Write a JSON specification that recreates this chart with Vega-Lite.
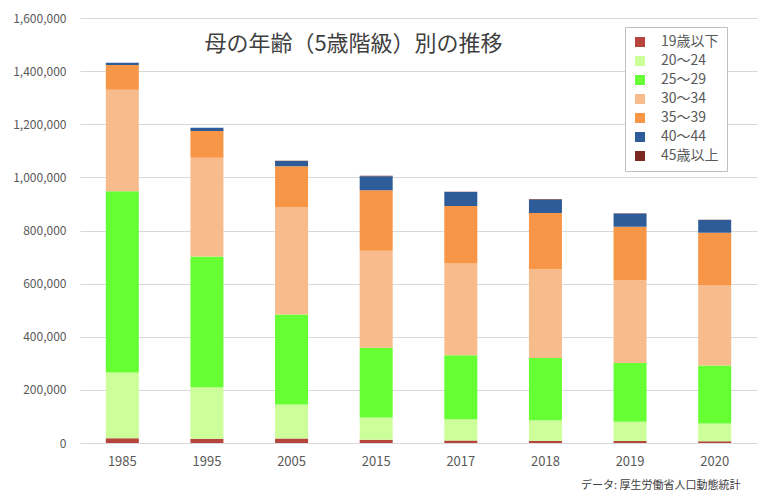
{
  "$schema": "https://vega.github.io/schema/vega-lite/v6.json",
  "autosize": "none",
  "width": 677,
  "height": 425,
  "padding": {"left": 80, "top": 18, "right": 5, "bottom": 57},
  "background": "white",
  "config": {
    "font": "Noto Sans CJK JP",
    "view": {"stroke": null}
  },
  "title": {
    "text": "母の年齢（5歳階級）別の推移",
    "fontSize": 22,
    "fontWeight": "normal",
    "color": "#404040",
    "anchor": "middle",
    "dx": -65,
    "dy": 44,
    "offset": 0
  },
  "data": {
    "values": [
      {"year": "1985", "age": "19歳以下", "k": 1, "births": 17854},
      {"year": "1985", "age": "20～24", "k": 2, "births": 247341},
      {"year": "1985", "age": "25～29", "k": 3, "births": 682885},
      {"year": "1985", "age": "30～34", "k": 4, "births": 381466},
      {"year": "1985", "age": "35～39", "k": 5, "births": 93501},
      {"year": "1985", "age": "40～44", "k": 6, "births": 8224},
      {"year": "1985", "age": "45歳以上", "k": 7, "births": 245},
      {"year": "1995", "age": "19歳以下", "k": 1, "births": 16075},
      {"year": "1995", "age": "20～24", "k": 2, "births": 193514},
      {"year": "1995", "age": "25～29", "k": 3, "births": 492714},
      {"year": "1995", "age": "30～34", "k": 4, "births": 371773},
      {"year": "1995", "age": "35～39", "k": 5, "births": 100053},
      {"year": "1995", "age": "40～44", "k": 6, "births": 12472},
      {"year": "1995", "age": "45歳以上", "k": 7, "births": 403},
      {"year": "2005", "age": "19歳以下", "k": 1, "births": 16573},
      {"year": "2005", "age": "20～24", "k": 2, "births": 128135},
      {"year": "2005", "age": "25～29", "k": 3, "births": 339328},
      {"year": "2005", "age": "30～34", "k": 4, "births": 404700},
      {"year": "2005", "age": "35～39", "k": 5, "births": 153440},
      {"year": "2005", "age": "40～44", "k": 6, "births": 19750},
      {"year": "2005", "age": "45歳以上", "k": 7, "births": 598},
      {"year": "2015", "age": "19歳以下", "k": 1, "births": 11929},
      {"year": "2015", "age": "20～24", "k": 2, "births": 84465},
      {"year": "2015", "age": "25～29", "k": 3, "births": 262266},
      {"year": "2015", "age": "30～34", "k": 4, "births": 364887},
      {"year": "2015", "age": "35～39", "k": 5, "births": 228302},
      {"year": "2015", "age": "40～44", "k": 6, "births": 52561},
      {"year": "2015", "age": "45歳以上", "k": 7, "births": 1308},
      {"year": "2017", "age": "19歳以下", "k": 1, "births": 9863},
      {"year": "2017", "age": "20～24", "k": 2, "births": 79272},
      {"year": "2017", "age": "25～29", "k": 3, "births": 240931},
      {"year": "2017", "age": "30～34", "k": 4, "births": 345441},
      {"year": "2017", "age": "35～39", "k": 5, "births": 216954},
      {"year": "2017", "age": "40～44", "k": 6, "births": 52105},
      {"year": "2017", "age": "45歳以上", "k": 7, "births": 1467},
      {"year": "2018", "age": "19歳以下", "k": 1, "births": 8778},
      {"year": "2018", "age": "20～24", "k": 2, "births": 77023},
      {"year": "2018", "age": "25～29", "k": 3, "births": 233754},
      {"year": "2018", "age": "30～34", "k": 4, "births": 334906},
      {"year": "2018", "age": "35～39", "k": 5, "births": 211021},
      {"year": "2018", "age": "40～44", "k": 6, "births": 51258},
      {"year": "2018", "age": "45歳以上", "k": 7, "births": 1654},
      {"year": "2019", "age": "19歳以下", "k": 1, "births": 7782},
      {"year": "2019", "age": "20～24", "k": 2, "births": 72092},
      {"year": "2019", "age": "25～29", "k": 3, "births": 220933},
      {"year": "2019", "age": "30～34", "k": 4, "births": 312582},
      {"year": "2019", "age": "35～39", "k": 5, "births": 201010},
      {"year": "2019", "age": "40～44", "k": 6, "births": 49191},
      {"year": "2019", "age": "45歳以上", "k": 7, "births": 1593},
      {"year": "2020", "age": "19歳以下", "k": 1, "births": 6948},
      {"year": "2020", "age": "20～24", "k": 2, "births": 66751},
      {"year": "2020", "age": "25～29", "k": 3, "births": 217804},
      {"year": "2020", "age": "30～34", "k": 4, "births": 303436},
      {"year": "2020", "age": "35～39", "k": 5, "births": 196321},
      {"year": "2020", "age": "40～44", "k": 6, "births": 47899},
      {"year": "2020", "age": "45歳以上", "k": 7, "births": 1619}
    ]
  },
  "mark": {"type": "bar"},
  "encoding": {
    "x": {
      "field": "year",
      "type": "ordinal",
      "sort": null,
      "scale": {"paddingInner": 0.61, "paddingOuter": 0.305},
      "axis": {
        "title": "データ: 厚生労働省人口動態統計",
        "titleFontSize": 11,
        "titleFontWeight": "normal",
        "titleColor": "#404040",
        "titleX": 660,
        "titleY": 42,
        "titleAlign": "right",
        "titleAnchor": null,
        "titleBaseline": "middle",
        "labelAngle": 0,
        "labelFontSize": 13,
        "labelColor": "#595959",
        "labelPadding": 12,
        "ticks": false,
        "domain": false
      }
    },
    "y": {
      "field": "births",
      "type": "quantitative",
      "aggregate": "sum",
      "stack": "zero",
      "scale": {"domain": [0, 1600000], "nice": false},
      "axis": {
        "title": null,
        "values": [0, 200000, 400000, 600000, 800000, 1000000, 1200000, 1400000, 1600000],
        "format": ",d",
        "labelFontSize": 12,
        "labelColor": "#595959",
        "labelPadding": 14,
        "ticks": false,
        "domain": false,
        "gridColor": "#d9d9d9",
        "gridWidth": 1
      }
    },
    "color": {
      "field": "age",
      "type": "nominal",
      "scale": {
        "domain": ["19歳以下", "20～24", "25～29", "30～34", "35～39", "40～44", "45歳以上"],
        "range": ["#B5453C", "#CCFF99", "#66FF33", "#F8BC8C", "#F79646", "#2E5C99", "#7A2820"]
      },
      "legend": {
        "title": null,
        "orient": "none",
        "legendX": 545,
        "legendY": 9,
        "symbolType": "square",
        "symbolSize": 100,
        "symbolStrokeWidth": 0,
        "labelFontSize": 14,
        "labelColor": "#595959",
        "labelOffset": 14,
        "rowPadding": 5,
        "padding": 8,
        "strokeColor": "#bfbfbf",
        "fillColor": "white"
      }
    },
    "order": {"field": "k", "type": "quantitative", "sort": "ascending"}
  }
}
